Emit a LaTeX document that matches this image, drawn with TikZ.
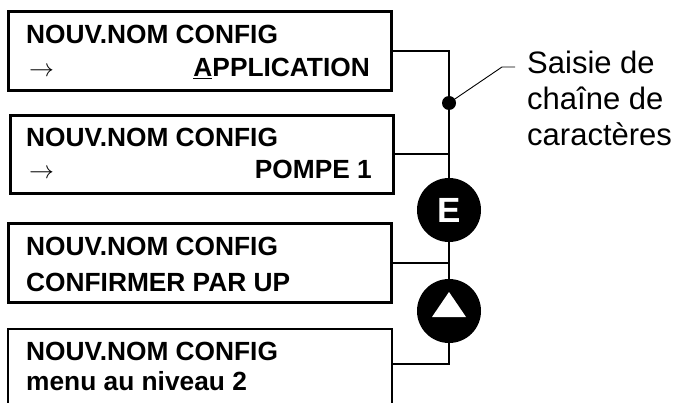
\documentclass[tikz,border=0pt]{standalone}
\usepackage{fontspec}
\setmainfont{Liberation Sans}
\begin{document}
\begin{tikzpicture}[x=1pt,y=-1pt,
  box/.style={draw, line width=2.6pt, anchor=north west, inner sep=0pt, minimum width=383pt},
  conn/.style={line width=2pt},
  txt/.style={anchor=base west, inner sep=0pt, font=\fontsize{26.3}{30}\selectfont\bfseries},
  txtr/.style={anchor=base east, inner sep=0pt, font=\fontsize{26.3}{30}\selectfont\bfseries},
  arr/.style={anchor=base west, inner sep=0pt, font=\fontsize{26}{30}\selectfont},
  side/.style={anchor=base west, inner sep=0pt, font=\fontsize{31}{36}\selectfont},
  knob/.style={circle, fill=black, minimum size=64pt, inner sep=0pt},
]
\useasboundingbox (0,0) rectangle (674,403);
% boxes
\node[box, minimum height=79pt] (b1) at (7,10) {};
\node[box, minimum height=78pt] (b2) at (9,114) {};
\node[box, minimum height=79pt] (b3) at (7,222) {};
\draw[line width=2.6pt] (8,404) -- (8,329) -- (392,329) -- (392,404);
\coordinate (b4) at (392,364);
% texts
\node[txt] (t1a) at (26,44) {NOUV.NOM CONFIG};
\node[arr] (t1b) at (29,77) {$\rightarrow$};
\node[txtr] (t1c) at (370,77) {\underline{A}PPLICATION};
\node[txt] (t2a) at (26,147) {NOUV.NOM CONFIG};
\node[arr] (t2b) at (29,179) {$\rightarrow$};
\node[txtr] (t2c) at (372,179) {POMPE 1};
\node[txt] (t3a) at (26,255) {NOUV.NOM CONFIG};
\node[txt] (t3b) at (26,291) {CONFIRMER PAR UP};
\node[txt] (t4a) at (26,360) {NOUV.NOM CONFIG};
\node[txt] (t4b) at (26,390) {menu au niveau 2};
% knobs
\node[knob] (ek) at (449,210) {};
\node[text=white, font=\fontsize{35}{35}\selectfont\bfseries] (etxt) at (ek) {E};
\node[knob] (tk) at (449,311) {};
\fill[white] ([yshift=19pt]tk.center) -- ([xshift=-17pt,yshift=-6pt]tk.center) -- ([xshift=17pt,yshift=-6pt]tk.center) -- cycle;
% bus
\node[circle, fill=black, minimum size=14pt, inner sep=0pt] (dot) at (449,103) {};
\draw[conn] (b1.east) -| (ek.north);
\draw[conn] (b2.east) -- (b2.east -| ek.center);
\draw[conn] (ek.south) -- (tk.north);
\draw[conn] (b3.east) -- (b3.east -| ek.center);
\draw[conn] (tk.south) |- (b4);
% leader and label
\coordinate (lk) at (502,67);
\coordinate (le) at (515,67);
\draw[line width=0.9pt] (dot.center) -- (lk) -- (le);
\node[side] (s1) at (527,74) {Saisie de};
\node[side] (s2) at (527,110) {chaîne de};
\node[side] (s3) at (527,146) {caractères};
\end{tikzpicture}
\end{document}
